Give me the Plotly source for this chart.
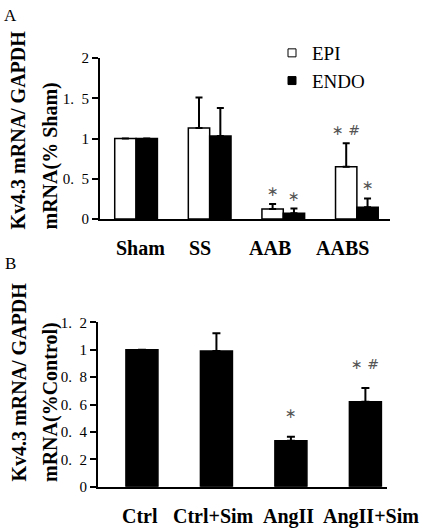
import plotly.graph_objects as go

# ---------------- data ----------------
groups_a = ["Sham", "SS", "AAB", "AABS"]
epi_mean = [1.00, 1.13, 0.125, 0.65]
epi_err = [0.0, 0.38, 0.06, 0.29]
endo_mean = [1.00, 1.03, 0.07, 0.145]
endo_err = [0.0, 0.35, 0.06, 0.11]
epi_sig = ["", "", "*", "* #"]
endo_sig = ["", "", "*", "*"]
yticks_a = [0, 0.5, 1, 1.5, 2]
yticktext_a = ["0", "0. 5", "1", "1. 5", "2"]

groups_b = ["Ctrl", "Ctrl+Sim", "AngII", "AngII+Sim"]
b_mean = [1.00, 0.99, 0.335, 0.62]
b_err = [0.0, 0.13, 0.03, 0.10]
b_sig = ["", "", "*", "* #"]
yticks_b = [0, 0.2, 0.4, 0.6, 0.8, 1.0, 1.2]
yticktext_b = ["0", "0. 2", "0. 4", "0. 6", "0. 8", "1", "1. 2"]

# ---------------- style ----------------
W, H = 425, 529
SERIF = "Liberation Serif"
TICKSP = "\u2002"  # wide space like the original's tick digits
SIGFONT = dict(family="DejaVu Sans", size=14, color="#555")
CATFONT = dict(family=SERIF, size=20, color="black", weight="bold")


def px_x(p):
    return p / W


def px_y(p):
    return 1 - p / H


def fmt(t):
    return t.replace(" ", TICKSP)


def sig(t):
    return t.replace("*", "\u2217")


fig = go.Figure()

bar_w_a = 0.29
fig.add_trace(go.Bar(
    x=groups_a, y=epi_mean, width=bar_w_a, offset=-bar_w_a,
    marker=dict(color="white", line=dict(color="black", width=1.5)),
    error_y=dict(type="data", array=epi_err, arrayminus=[0] * len(epi_err),
                 symmetric=False, color="black", thickness=2, width=3.5),
    xaxis="x", yaxis="y", showlegend=False, name="EPI"))
fig.add_trace(go.Bar(
    x=groups_a, y=endo_mean, width=bar_w_a, offset=0,
    marker=dict(color="black", line=dict(color="black", width=1.5)),
    error_y=dict(type="data", array=endo_err, arrayminus=[0] * len(endo_err),
                 symmetric=False, color="black", thickness=2, width=3.5),
    xaxis="x", yaxis="y", showlegend=False, name="ENDO"))

# legend swatches
fig.add_trace(go.Scatter(x=[None], y=[None], mode="markers", name="EPI",
                         marker=dict(symbol="square", size=8, color="white",
                                     line=dict(color="black", width=1)),
                         xaxis="x", yaxis="y"))
fig.add_trace(go.Scatter(x=[None], y=[None], mode="markers", name="ENDO",
                         marker=dict(symbol="square", size=8, color="black",
                                     line=dict(color="black", width=1)),
                         xaxis="x", yaxis="y"))

bar_w_b = 0.43
fig.add_trace(go.Bar(
    x=groups_b, y=b_mean, width=bar_w_b, offset=-bar_w_b / 2,
    marker=dict(color="black", line=dict(color="black", width=1.5)),
    error_y=dict(type="data", array=b_err, arrayminus=[0] * len(b_err),
                 symmetric=False, color="black", thickness=2, width=4),
    xaxis="x2", yaxis="y2", showlegend=False, name="Kv4.3"))

annotations = []
# significance marks
for g, m, e, s in zip(groups_a, epi_mean, epi_err, epi_sig):
    if s:
        annotations.append(dict(x=g, y=m + e, xref="x", yref="y", text=sig(s),
                                showarrow=False, xshift=-10.7, yshift=13, font=SIGFONT))
for g, m, e, s in zip(groups_a, endo_mean, endo_err, endo_sig):
    if s:
        annotations.append(dict(x=g, y=m + e, xref="x", yref="y", text=sig(s),
                                showarrow=False, xshift=10.7, yshift=13, font=SIGFONT))
for g, m, e, s in zip(groups_b, b_mean, b_err, b_sig):
    if s:
        annotations.append(dict(x=g, y=m + e, xref="x2", yref="y2", text=sig(s),
                                showarrow=False, yshift=24, font=SIGFONT))

# category labels
shifts_a = [4, -10, -13, -14]
for g, sh in zip(groups_a, shifts_a):
    annotations.append(dict(x=g, y=px_y(248), xref="x", yref="paper", text=g,
                            showarrow=False, xshift=sh, yanchor="middle", font=CATFONT))
shifts_b = [-2, -3, -2, 6]
for g, sh in zip(groups_b, shifts_b):
    annotations.append(dict(x=g, y=px_y(516), xref="x2", yref="paper", text=g,
                            showarrow=False, xshift=sh, yanchor="middle", font=CATFONT))

# y titles
title_font = dict(family=SERIF, size=20, color="black", weight="bold")
for (xc, ybot, txt) in [(18, 232, "Kv4.3 mRNA/ GAPDH"), (50, 232, "mRNA(% Sham)"),
                        (18, 484, "Kv4.3 mRNA/ GAPDH"), (50, 484, "mRNA(%Control)")]:
    annotations.append(dict(x=px_x(xc), y=px_y(ybot), xref="paper", yref="paper",
                            text=txt, textangle=-90, showarrow=False,
                            xanchor="center", yanchor="bottom", font=title_font))

# panel letters
for (xc, yc, txt) in [(10, 15, "A"), (10, 263, "B")]:
    annotations.append(dict(x=px_x(xc), y=px_y(yc), xref="paper", yref="paper",
                            text=txt, showarrow=False, xanchor="center", yanchor="middle",
                            font=dict(family=SERIF, size=17, color="black")))

yaxis_common = dict(showline=True, linecolor="black", linewidth=2, ticks="outside",
                    ticklen=6, tickwidth=2, tickcolor="black", showgrid=False,
                    zeroline=False, automargin=False,
                    tickfont=dict(family=SERIF, size=15, color="black"))

fig.update_layout(
    width=W, height=H, margin=dict(l=0, r=0, t=0, b=0, autoexpand=False),
    font=dict(family=SERIF, color="black"),
    paper_bgcolor="white", plot_bgcolor="white", barmode="overlay",
    xaxis=dict(domain=[px_x(100), px_x(390)], anchor="y", type="category",
               categoryorder="array", categoryarray=groups_a, automargin=False,
               range=[-0.49, 3.45], showline=True, linecolor="black", linewidth=2,
               ticks="", showticklabels=False, showgrid=False, zeroline=False),
    yaxis=dict(domain=[px_y(219), px_y(58)], anchor="x", range=[0, 2],
               tickvals=yticks_a, ticktext=[fmt(t) for t in yticktext_a], **yaxis_common),
    xaxis2=dict(domain=[px_x(98), px_x(387)], anchor="y2", type="category",
                categoryorder="array", categoryarray=groups_b, automargin=False,
                range=[-0.59, 3.29], showline=True, linecolor="black", linewidth=2,
                ticks="", showticklabels=False, showgrid=False, zeroline=False),
    yaxis2=dict(domain=[px_y(486.7), px_y(322.3)], anchor="x2", range=[0, 1.2],
                tickvals=yticks_b, ticktext=[fmt(t) for t in yticktext_b], **yaxis_common),
    legend=dict(x=px_x(272), y=px_y(34), xanchor="left", yanchor="top",
                bgcolor="rgba(0,0,0,0)", font=dict(family=SERIF, size=19, color="black"),
                itemsizing="trace", tracegroupgap=0),
    annotations=annotations,
)

fig.write_html("out.html", config={"displayModeBar": False},
               post_script="document.body.style.margin='0px';")
